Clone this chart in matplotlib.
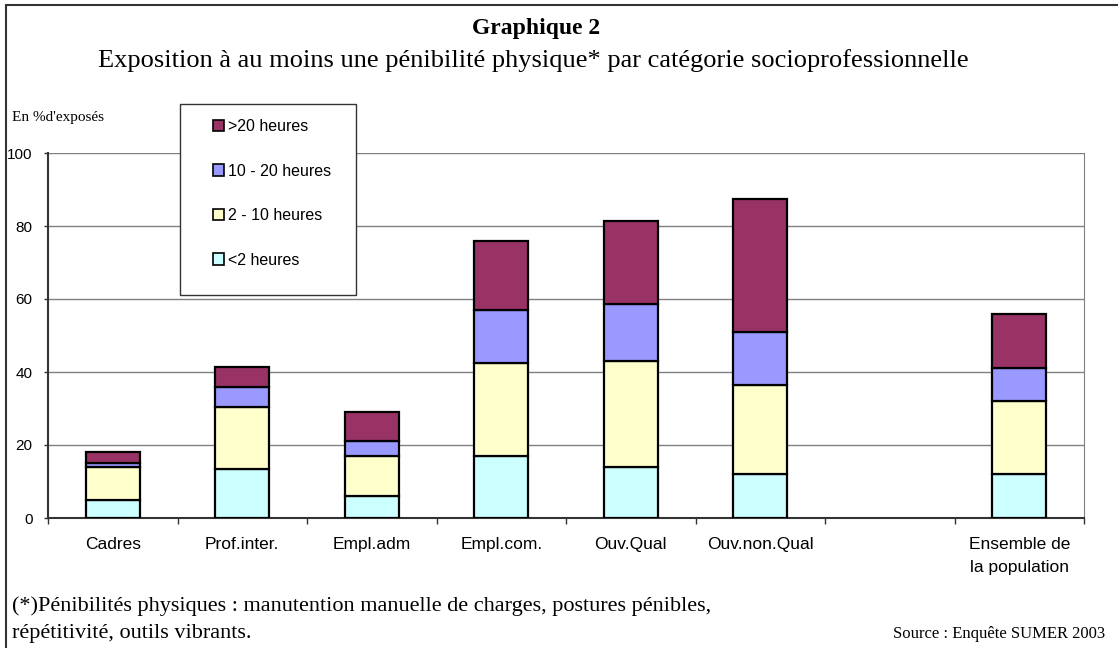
import numpy as np
import matplotlib.pyplot as plt
from matplotlib.patches import Patch, Rectangle

# categories (the empty string is the blank slot before the total)
categories = ["Cadres", "Prof.inter.", "Empl.adm", "Empl.com.", "Ouv.Qual",
              "Ouv.non.Qual", "", "Ensemble de\nla population"]
lt2 = [5, 13.5, 6, 17, 14, 12, np.nan, 12]        # < 2 heures
h2_10 = [9, 17, 11, 25.5, 29, 24.5, np.nan, 20]   # 2 - 10 heures
h10_20 = [1, 5.5, 4, 14.5, 15.5, 14.5, np.nan, 9]  # 10 - 20 heures
gt20 = [3, 5.5, 8, 19, 23, 36.5, np.nan, 15]      # > 20 heures

series = [lt2, h2_10, h10_20, gt20]
labels = ["<2 heures", "2 - 10 heures", "10 - 20 heures", ">20 heures"]
colors = ["#CCFFFF", "#FFFFCC", "#9999FF", "#993366"]

serif = "Liberation Serif"
sans = "Liberation Sans"

fig = plt.figure(figsize=(11.18, 6.48), dpi=100)
W, H = 1118, 648

# outer frame of the picture
fig.patches.append(Rectangle((6 / W, -0.1), 1.2, (H - 5) / H + 0.1, transform=fig.transFigure,
                             fill=False, edgecolor="#333333", linewidth=1.5))

ax = fig.add_axes([48 / W, (H - 518) / H, (1084 - 48) / W, (518 - 153) / H])

x = np.arange(len(categories))
bottom = np.zeros(len(categories))
for vals, lab, col in zip(series, labels, colors):
    vals = np.array(vals, dtype=float)
    ax.bar(x, vals, width=0.42, bottom=bottom, color=col, edgecolor="black",
           linewidth=1.6, label=lab, zorder=3)
    bottom = bottom + np.nan_to_num(vals)

ax.set_xlim(-0.5, len(categories) - 0.5)
ax.set_ylim(0, 100)
ax.set_yticks([0, 20, 40, 60, 80, 100])
ax.yaxis.grid(True, color="#808080", linewidth=1.0, zorder=0)
ax.tick_params(axis="y", labelsize=11, length=3, width=1, color="#333333", pad=8)
for t in ax.get_yticklabels():
    t.set_fontfamily(sans)

# ticks between the categories, labels centred
ax.set_xticks(np.arange(len(categories) + 1) - 0.5)
ax.set_xticklabels([])
ax.tick_params(axis="x", which="major", length=4, width=1, color="#333333")
ax.set_xticks(x, minor=True)
ax.set_xticklabels(categories, minor=True, fontsize=12.5, fontfamily=sans, linespacing=1.65)
ax.tick_params(axis="x", which="minor", length=0, pad=14)

ax.spines["top"].set_visible(False)
ax.spines["right"].set_color("#808080")
ax.spines["left"].set_color("#333333")
ax.spines["bottom"].set_color("#333333")
ax.spines["left"].set_linewidth(1.5)
ax.spines["bottom"].set_linewidth(1.5)

# legend (top category first), with its own box
fig.patches.append(Rectangle((180 / W, (H - 295) / H), 176 / W, 191 / H,
                             transform=fig.transFigure, facecolor="white",
                             edgecolor="#333333", linewidth=1.0, zorder=4))
handles = [Patch(facecolor=c, edgecolor="black", linewidth=1.2) for c in colors]
leg = fig.legend(handles[::-1], labels[::-1], loc="upper left",
                 bbox_to_anchor=(213 / W, (H - 119) / H), frameon=False,
                 handlelength=0.7, handleheight=0.7, handletextpad=0.25,
                 labelspacing=1.85, borderpad=0, borderaxespad=0,
                 prop={"family": sans, "size": 11.5})
leg.set_zorder(5)

fig.text(536 / W, (H - 34) / H, "Graphique 2", ha="center", va="baseline",
         fontsize=17, fontweight="bold", fontfamily=serif)
fig.text(533 / W, (H - 67) / H,
         "Exposition à au moins une pénibilité physique* par catégorie socioprofessionnelle",
         ha="center", va="baseline", fontsize=19, fontfamily=serif)
fig.text(12 / W, (H - 121) / H, "En %d'exposés", ha="left", va="baseline",
         fontsize=11, fontfamily=serif)
fig.text(12 / W, (H - 611) / H,
         "(*)Pénibilités physiques : manutention manuelle de charges, postures pénibles,",
         ha="left", va="baseline", fontsize=16, fontfamily=serif)
fig.text(12 / W, (H - 638) / H, "répétitivité, outils vibrants.",
         ha="left", va="baseline", fontsize=16, fontfamily=serif)
fig.text(1105 / W, (H - 638) / H, "Source : Enquête SUMER 2003", ha="right", va="baseline",
         fontsize=12, fontfamily=serif)

fig.savefig("out.png", dpi=100)
